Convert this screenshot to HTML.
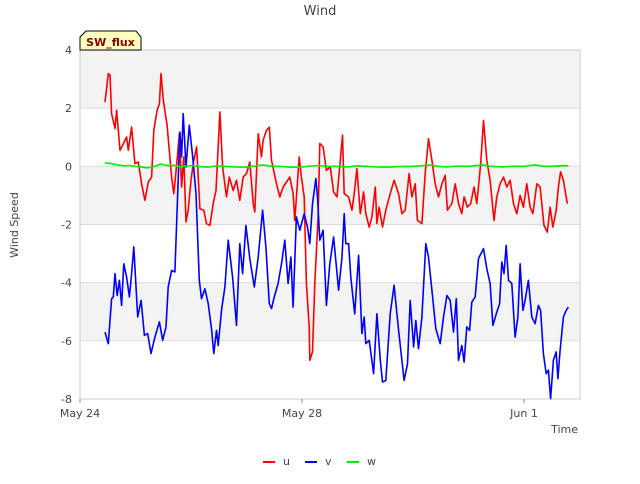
<!DOCTYPE html>
<html><head><meta charset="utf-8"><style>
body{margin:0;background:#fff;font-family:"DejaVu Sans","Liberation Sans",sans-serif}
svg text{font-family:"DejaVu Sans","Liberation Sans",sans-serif}
</style></head><body>
<svg id="chart" width="640" height="480" xmlns="http://www.w3.org/2000/svg">
<rect width="640" height="480" fill="#fff"/>
<g id="bands"></g>
<g id="grid"></g>
<rect x="80" y="50" width="500" height="349" fill="none" stroke="#ccc"/>
<g id="series"></g>
<g id="axes"></g>
<text x="320" y="15" text-anchor="middle" font-size="13" fill="#444">Wind</text>
<text x="18" y="225" text-anchor="middle" font-size="11" fill="#444" transform="rotate(-90 18 225)">Wind Speed</text>
<text x="578" y="433" text-anchor="end" font-size="11" fill="#444">Time</text>
<g>
<path d="M80,50 L80,37 L86,31 L136,31 L141,37 L141,50 Z" fill="#ffffc0" stroke="#000"/>
<text x="110.5" y="46" text-anchor="middle" font-size="11" font-weight="bold" fill="#8b0000">SW_flux</text>
</g>
<g id="legend"></g>
</svg>
<script>
const yTicks=[-8,-6,-4,-2,0,2,4];
const xTickDays=[0,4,8];
const xTickLabels=["May 24","May 28","Jun 1"];
const uT=[0.45,0.51,0.54,0.57,0.63,0.66,0.72,0.78,0.84,0.87,0.93,0.99,1.05,1.11,1.17,1.23,1.29,1.33,1.39,1.43,1.46,1.50,1.57,1.65,1.69,1.74,1.79,1.83,1.87,1.91,1.95,2.00,2.04,2.10,2.16,2.23,2.28,2.34,2.40,2.45,2.52,2.57,2.64,2.69,2.76,2.82,2.88,2.94,3.00,3.06,3.12,3.15,3.21,3.27,3.30,3.36,3.41,3.45,3.54,3.60,3.66,3.72,3.78,3.84,3.87,3.95,3.99,4.04,4.08,4.13,4.14,4.19,4.23,4.29,4.32,4.38,4.44,4.51,4.57,4.63,4.69,4.73,4.76,4.84,4.90,4.94,4.99,5.05,5.11,5.15,5.21,5.26,5.32,5.35,5.39,5.45,5.51,5.59,5.66,5.74,5.80,5.86,5.93,5.98,6.04,6.08,6.16,6.22,6.28,6.34,6.40,6.46,6.52,6.58,6.62,6.70,6.76,6.82,6.88,6.92,6.98,7.04,7.10,7.15,7.22,7.27,7.33,7.39,7.46,7.51,7.57,7.63,7.69,7.75,7.81,7.87,7.93,7.99,8.05,8.11,8.16,8.23,8.29,8.36,8.42,8.47,8.52,8.58,8.62,8.66,8.71,8.78];
const uV=[2.21,3.19,3.13,1.81,1.30,1.93,0.55,0.78,1.01,0.55,1.35,0.09,0.15,-0.60,-1.17,-0.54,-0.37,1.24,1.93,2.16,3.19,2.27,1.41,-0.37,-0.94,0.03,1.12,-0.71,0.32,-1.91,-1.51,-0.48,0.09,0.67,-1.46,-1.51,-1.97,-2.03,-1.28,-0.83,1.87,-0.02,-1.05,-0.37,-0.83,-0.48,-1.17,-0.37,-0.25,0.15,-1.28,-1.57,1.12,0.32,0.90,1.24,1.35,0.21,-0.60,-1.05,-0.71,-0.54,-0.37,-0.94,-1.86,0.32,-0.37,-1.05,-4.03,-5.52,-6.67,-6.38,-4.03,-1.74,0.78,0.67,-0.14,-0.02,-0.88,-1.05,0.21,1.07,-0.94,-1.05,-1.51,-0.94,-0.08,-1.63,-0.88,-1.63,-2.09,-1.74,-0.71,-1.97,-1.40,-2.09,-1.51,-0.94,-0.48,-0.94,-1.63,-1.51,-0.25,-1.05,-0.60,-1.86,-1.97,-0.25,0.95,0.21,-0.60,-1.05,-0.60,-0.31,-1.51,-1.28,-0.60,-1.28,-1.63,-1.05,-1.40,-1.28,-0.71,-1.28,0.09,1.58,0.21,-0.48,-1.86,-1.05,-0.60,-0.37,-0.71,-0.48,-1.28,-1.63,-1.00,-1.40,-0.60,-1.40,-1.63,-0.60,-0.71,-2.03,-2.26,-1.40,-2.09,-1.51,-0.71,-0.19,-0.48,-1.28];
const vT=[0.45,0.51,0.57,0.60,0.63,0.67,0.71,0.75,0.79,0.84,0.89,0.93,0.97,1.04,1.10,1.16,1.22,1.28,1.35,1.43,1.49,1.55,1.59,1.65,1.71,1.75,1.80,1.83,1.86,1.91,1.97,2.03,2.09,2.15,2.19,2.25,2.31,2.37,2.41,2.46,2.49,2.55,2.61,2.67,2.75,2.82,2.88,2.93,2.99,3.06,3.14,3.21,3.29,3.35,3.41,3.45,3.50,3.57,3.63,3.69,3.75,3.80,3.84,3.90,3.96,4.04,4.10,4.14,4.19,4.25,4.28,4.32,4.38,4.44,4.50,4.57,4.66,4.72,4.76,4.79,4.84,4.88,4.95,5.02,5.08,5.12,5.15,5.21,5.29,5.35,5.41,5.45,5.51,5.59,5.66,5.74,5.80,5.84,5.90,5.95,6.01,6.05,6.10,6.16,6.23,6.28,6.34,6.41,6.49,6.55,6.61,6.67,6.73,6.78,6.82,6.88,6.92,6.97,7.02,7.06,7.12,7.18,7.27,7.33,7.39,7.44,7.50,7.56,7.60,7.64,7.68,7.72,7.78,7.84,7.89,7.93,7.98,8.02,8.08,8.14,8.20,8.26,8.30,8.35,8.40,8.44,8.48,8.53,8.58,8.61,8.65,8.71,8.76,8.80];
const vV=[-5.70,-6.10,-4.55,-4.49,-3.69,-4.44,-3.92,-4.78,-3.35,-3.81,-4.49,-3.69,-2.77,-5.18,-4.61,-5.81,-5.75,-6.44,-5.87,-5.35,-5.98,-5.52,-4.15,-3.58,-3.63,-1.51,1.18,0.32,1.81,-0.02,1.41,0.32,-0.94,-3.92,-4.55,-4.21,-4.72,-5.58,-6.44,-5.64,-6.16,-4.95,-4.15,-2.54,-3.81,-5.47,-2.66,-3.69,-2.03,-3.17,-4.15,-3.12,-1.51,-2.77,-4.72,-4.89,-4.49,-4.03,-3.35,-2.54,-4.03,-3.12,-4.84,-1.74,-2.20,-1.63,-2.09,-2.66,-1.28,-0.42,-1.05,-2.54,-2.20,-4.78,-3.35,-2.43,-4.26,-3.12,-1.63,-2.66,-2.66,-3.81,-5.07,-3.06,-5.75,-5.18,-6.10,-5.98,-7.13,-5.07,-6.67,-7.42,-7.36,-5.07,-4.09,-5.64,-6.67,-7.36,-6.79,-4.61,-6.21,-5.30,-6.27,-5.18,-2.66,-3.12,-4.26,-5.58,-6.10,-5.18,-4.44,-4.61,-5.70,-4.55,-6.67,-6.16,-6.73,-5.52,-5.64,-4.67,-4.49,-3.17,-2.83,-3.52,-4.03,-5.47,-5.07,-4.72,-3.29,-3.69,-2.72,-3.92,-4.03,-5.87,-5.18,-3.35,-4.95,-4.61,-3.92,-5.18,-5.41,-4.78,-4.95,-6.44,-7.13,-7.01,-7.99,-6.67,-6.38,-7.30,-6.33,-5.18,-4.95,-4.84];
const wT=[0.45,0.52,0.6,0.7,0.8,0.9,1.0,1.1,1.2,1.3,1.45,1.6,1.7,1.8,1.9,2.0,2.15,2.3,2.45,2.6,2.8,3.0,3.15,3.3,3.45,3.6,3.8,4.0,4.15,4.3,4.45,4.6,4.8,5.0,5.2,5.5,5.75,6.0,6.15,6.3,6.45,6.6,6.8,7.0,7.1,7.25,7.4,7.6,7.8,8.0,8.1,8.2,8.35,8.5,8.65,8.8];
const wV=[0.12,0.10,0.08,0.04,0.02,0.03,0.0,-0.02,-0.05,-0.03,0.08,0.02,0.04,-0.02,0.01,0.03,-0.01,-0.03,0.01,0.0,-0.02,-0.03,0.01,0.05,0.0,0.0,-0.03,-0.02,0.01,0.03,0.0,0.0,-0.02,0.02,-0.01,-0.03,-0.01,0.0,0.02,0.05,0.0,-0.02,0.01,0.0,0.02,0.05,0.0,-0.02,0.0,0.0,0.03,0.05,0.0,0.0,0.02,0.02];

const NS="http://www.w3.org/2000/svg";
const X0=80,X1=580,Y0=50,Y1=399,DMIN=0,DMAX=500/55.5,VMIN=-8,VMAX=4;
function xs(d){return X0+(d-DMIN)/(DMAX-DMIN)*(X1-X0);}
function ys(v){return Y1-(v-VMIN)/(VMAX-VMIN)*(Y1-Y0);}
function mk(tag,attrs,parent){const e=document.createElementNS(NS,tag);for(const k in attrs)e.setAttribute(k,attrs[k]);document.getElementById(parent).appendChild(e);return e;}

// bands
for(let i=0;i<yTicks.length-1;i++){
  if(i%2===1){
    const b=mk('rect',{x:X0,y:ys(yTicks[i+1]),width:X1-X0,height:ys(yTicks[i])-ys(yTicks[i+1]),fill:'#f3f3f3'},'bands');
    
    
  }
}
yTicks.forEach(t=>{
  const l=mk('line',{x1:X0,x2:X1,y1:ys(t),y2:ys(t),stroke:'#ddd'},'grid');
  
  
  const tx=mk('text',{x:X0-8,y:ys(t)+4,'text-anchor':'end','font-size':'11',fill:'#444'},'axes');
  tx.textContent=t;
  
  
});
xTickDays.forEach((d,i)=>{
  const l=mk('line',{x1:xs(d),x2:xs(d),y1:Y1,y2:Y1+4,stroke:'#888'},'axes');
  
  
  const tx=mk('text',{x:xs(d),y:Y1+18,'text-anchor':'middle','font-size':'11',fill:'#444'},'axes');
  tx.textContent=xTickLabels[i];
  
  
});
function line(T,V,color,name){
  const p=T.map((t,i)=>(i?'L':'M')+xs(t).toFixed(1)+','+ys(V[i]).toFixed(1)).join('');
  const e=mk('path',{d:p,fill:'none',stroke:color,'stroke-width':'1.6','stroke-linejoin':'round'},'series');
  
  
}
line(uT,uV,'#ff0000','series-u');
line(vT,vV,'#0000ff','series-v');
line(wT,wV,'#00ee00','series-w');

const leg=[['u','#ff0000',263],['v','#0000ff',305],['w','#00ee00',347]];
leg.forEach(([n,c,x])=>{
  const l=mk('line',{x1:x,x2:x+12,y1:462,y2:462,stroke:c,'stroke-width':'2'},'legend');
  
  
  const t=mk('text',{x:x+20,y:465,'font-size':'11',fill:'#444'},'legend');
  t.textContent=n;
  
  
});
</script>
</body></html>
